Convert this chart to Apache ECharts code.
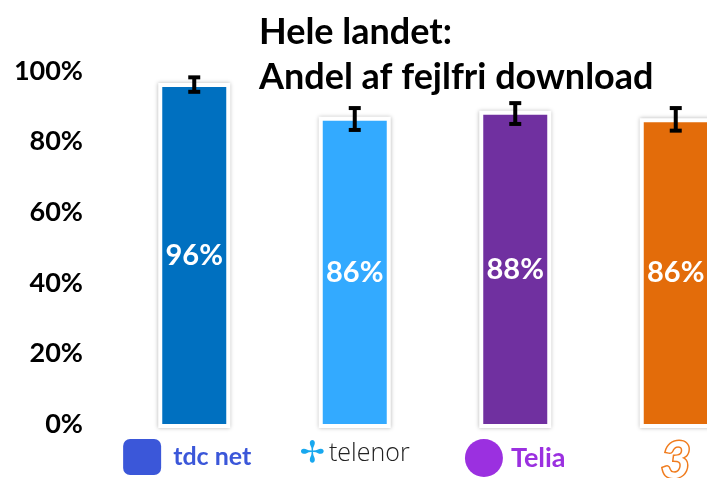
<!DOCTYPE html>
<html>
<head>
<meta charset="utf-8">
<script src="https://cdn.jsdelivr.net/npm/echarts@6/dist/echarts.min.js"></script>
<style>
  html, body { margin: 0; padding: 0; background: #fff; }
  #chart { width: 707px; height: 478px; }
</style>
</head>
<body>
<div id="chart"></div>
<script>
var operators = ['tdc', 'telenor', 'telia', 'tre'];
var shares = [95.5, 85.9, 87.6, 85.5];
var errLow = [94.1, 83.3, 85.0, 83.1];
var errHigh = [98.2, 89.5, 90.9, 89.5];
var barColors = ['#0070c0', '#33aaff', '#7030a0', '#e36c0a'];
var yTicks = [0, 20, 40, 60, 80, 100];

var chart = echarts.init(document.getElementById('chart'));

var errData = [];
var frameData = [];
for (var i = 0; i < operators.length; i++) {
    errData.push([i, errLow[i], errHigh[i]]);
    frameData.push([i, shares[i]]);
}

var option = {
    animation: false,
    title: {
        text: 'Hele landet:\nAndel af fejlfri download',
        left: 254,
        top: 5,
        textStyle: {
            fontFamily: 'Lato',
            fontWeight: 'bold',
            fontSize: 36,
            lineHeight: 45,
            color: '#000'
        }
    },
    grid: {
        left: 114,
        right: -49,
        top: 71,
        bottom: 54,
        outerBoundsMode: 'none',
        containLabel: false
    },
    xAxis: {
        type: 'category',
        data: operators,
        axisLine: { show: false },
        axisTick: { show: false },
        axisLabel: {
            interval: 0,
            hideOverlap: false,
            margin: 15,
            formatter: function (v) {
                if (v === 'tdc') return '{tdcBox|}{tdc|tdc net}';
                if (v === 'telenor') return '{telIcon|✢}{tel|telenor}';
                if (v === 'telia') return '{teliaIcon|}{telia|Telia}';
                return '{tre|3}';
            },
            rich: {
                tdcBox: { width: 38, height: 36, backgroundColor: '#3b57d9', borderRadius: 7 },
                tdc: { color: '#3b57d9', fontFamily: 'Lato', fontWeight: 'bold', fontSize: 25, padding: [0, 14, 0, 12] },
                telIcon: { color: '#18a8ef', fontFamily: 'DejaVu Sans', fontSize: 30, padding: [0, 4, 0, 0] },
                tel: { color: '#222', fontFamily: 'Open Sans', fontWeight: 300, fontSize: 25 },
                teliaIcon: { width: 38, height: 38, backgroundColor: '#9b30e0', borderRadius: 19 },
                telia: { color: '#9b30e0', fontFamily: 'Lato', fontWeight: 'bold', fontSize: 27, padding: [0, 0, 0, 8] },
                tre: { color: '#fff', textBorderColor: '#f07c1e', textBorderWidth: 3, fontFamily: 'Lato', fontWeight: 'bold', fontStyle: 'italic', fontSize: 52, lineHeight: 44 }
            }
        }
    },
    yAxis: {
        type: 'value',
        min: 0,
        max: 100,
        interval: 20,
        splitLine: { show: false },
        axisLine: { show: false },
        axisTick: { show: false },
        axisLabel: {
            margin: 31,
            fontFamily: 'Lato',
            fontWeight: 'bold',
            fontSize: 27,
            color: '#000',
            formatter: function (v) {
                return yTicks.indexOf(v) >= 0 ? v + '%' : '';
            }
        }
    },
    series: [
        {
            // white frame with soft grey edge behind each bar
            type: 'custom',
            data: frameData,
            z: 1,
            renderItem: function (params, api) {
                var top = api.coord([api.value(0), api.value(1)]);
                var base = api.coord([api.value(0), 0]);
                var w = 64 + 8;
                return {
                    type: 'rect',
                    shape: { x: top[0] - w / 2, y: top[1] - 4, width: w, height: base[1] - top[1] + 8 },
                    style: { fill: '#fff', shadowColor: 'rgba(0,0,0,0.28)', shadowBlur: 4 }
                };
            }
        },
        {
            type: 'bar',
            barWidth: 64,
            data: shares.map(function (v, i) {
                return { value: v, itemStyle: { color: barColors[i] } };
            }),
            label: {
                show: true,
                position: 'inside',
                color: '#fff',
                fontFamily: 'Lato',
                fontWeight: 'bold',
                fontSize: 29,
                formatter: function (p) {
                    return Math.round(p.value) + '%';
                }
            },
            z: 2
        },
        {
            type: 'custom',
            data: errData,
            z: 5,
            renderItem: function (params, api) {
                var x = api.value(0);
                var lo = api.coord([x, api.value(1)]);
                var hi = api.coord([x, api.value(2)]);
                var cap = 6;
                var st = { stroke: '#000', lineWidth: 4 };
                return {
                    type: 'group',
                    children: [
                        { type: 'line', shape: { x1: lo[0], y1: lo[1], x2: hi[0], y2: hi[1] }, style: st },
                        { type: 'line', shape: { x1: lo[0] - cap, y1: lo[1], x2: lo[0] + cap, y2: lo[1] }, style: st },
                        { type: 'line', shape: { x1: hi[0] - cap, y1: hi[1], x2: hi[0] + cap, y2: hi[1] }, style: st }
                    ]
                };
            }
        }
    ]
};

chart.setOption(option);
</script>
</body>
</html>
